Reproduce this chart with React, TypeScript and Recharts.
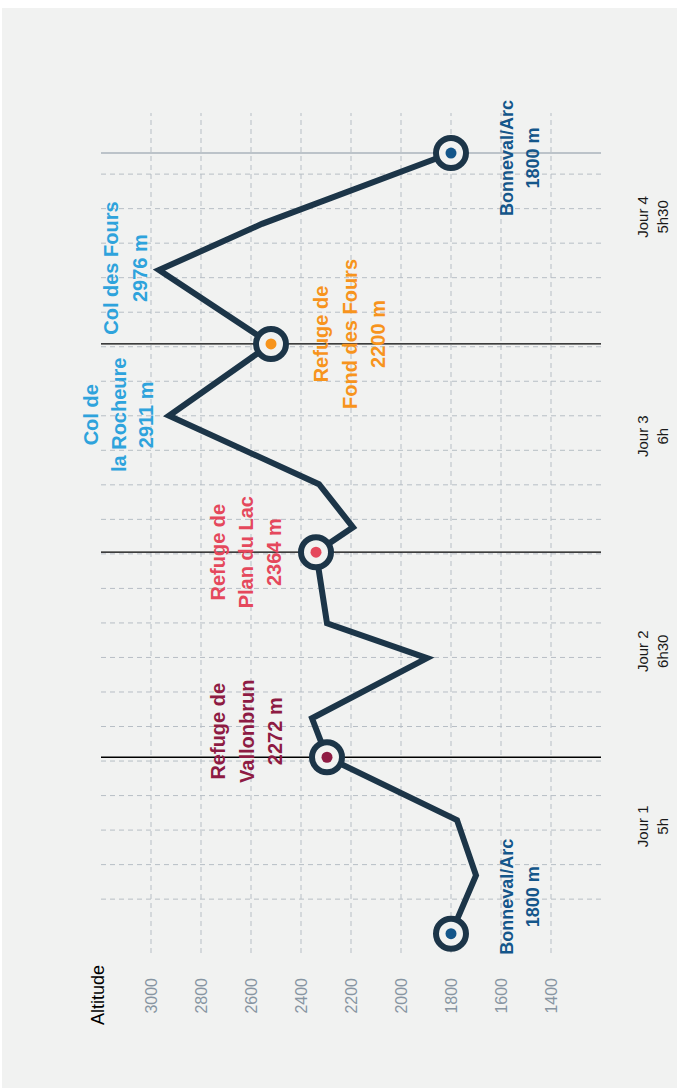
import { Line, LineChart, ReferenceLine, XAxis, YAxis } from "recharts";

// profile, read along the route (km from start) and altitude (m)
const km = [0, 1.69, 3.29, 5.11, 6.24, 7.98, 8.99, 11.05, 11.77, 13.02, 15.0, 17.08, 19.22, 20.56, 22.61];
const altitude = [1800, 1700, 1776, 2296, 2356, 1896, 2296, 2340, 2192, 2328, 2928, 2520, 2968, 2556, 1800];

const altitudeTicks = [1400, 1600, 1800, 2000, 2200, 2400, 2600, 2800, 3000];
const gridKm = [1, 2, 3, 4, 5, 6, 7, 8, 9, 10, 11, 12, 13, 14, 15, 16, 17, 18, 19, 20, 21, 22];

const dayKm = [3.11, 8.18, 14.41, 20.76];
const dayNames = ["Jour 1", "Jour 2", "Jour 3", "Jour 4"];
const dayDurations = ["5h", "6h30", "6h", "5h30"];

const stageEndKm = [5.11, 11.05, 17.08];
const routeEndKm = 22.61;

// points with a ring marker
const stopPoints = [0, 3, 7, 11, 14];
// labelled points and their text
const placePoints = [0, 3, 7, 10, 11, 12, 14];
const placeLines = [
  ["Bonneval/Arc", "1800 m"],
  ["Refuge de", "Vallonbrun", "2272 m"],
  ["Refuge de", "Plan du Lac", "2364 m"],
  ["Col de", "la Rocheure", "2911 m"],
  ["Refuge de", "Fond des Fours", "2200 m"],
  ["Col des Fours", "2976 m"],
  ["Bonneval/Arc", "1800 m"],
];

const BG = "#f1f2f1";
const NAVY = "#1c3548";
const BLUE = "#14568a";
const WINE = "#8e1b43";
const RED = "#e5485c";
const SKY = "#2ea3dc";
const ORANGE = "#f7941d";
const GRID = "#b7bec5";

const stopColors = [BLUE, WINE, RED, ORANGE, BLUE];
const placeStyle = [
  { color: BLUE, size: 18, dx: 37, base: 62, step: 26 },
  { color: WINE, size: 20, dx: 26, base: -102, step: 28.5 },
  { color: RED, size: 20, dx: 0, base: -91, step: 28 },
  { color: SKY, size: 20, dx: 1, base: -71, step: 27.5 },
  { color: ORANGE, size: 20, dx: 10, base: 57, step: 28.5 },
  { color: SKY, size: 20, dx: 2, base: -41, step: 29 },
  { color: BLUE, size: 18, dx: -5, base: 62, step: 26 },
];

const data = km.map((k, i) => ({ km: k, alt: altitude[i] }));

const renderPoint = (props: any) => {
  const { cx, cy, index } = props;
  const s = stopPoints.indexOf(index);
  const p = placePoints.indexOf(index);
  const st = p >= 0 ? placeStyle[p] : null;
  return (
    <g key={`pt-${index}`}>
      {s >= 0 && <circle cx={cx} cy={cy} r={15} fill={BG} stroke={NAVY} strokeWidth={6} />}
      {s >= 0 && <circle cx={cx} cy={cy} r={5.5} fill={stopColors[s]} />}
      {st && (
        <text textAnchor="middle" fill={st.color} fontSize={st.size} fontWeight="bold">
          {placeLines[p].map((line, i) => (
            <tspan key={i} x={cx + st.dx} y={cy + st.base + i * st.step}>
              {line}
            </tspan>
          ))}
        </text>
      )}
    </g>
  );
};

const DayTick = (props: any) => {
  const { x, y, payload } = props;
  const i = dayKm.indexOf(payload.value);
  return (
    <text x={x} y={y} textAnchor="middle" fill="#1a1a1a" fontSize={15}>
      <tspan x={x} dy={47}>{dayNames[i]}</tspan>
      <tspan x={x} dy={20}>{dayDurations[i]}</tspan>
    </text>
  );
};

const renderAltitude = (props: any) => {
  const vb = props.viewBox;
  return (
    <text x={vb.x + vb.width - 42} y={vb.y + 3} textAnchor="middle" fill="#000" fontSize={18}>
      Altitude
    </text>
  );
};

export default function App() {
  return (
    <div style={{ position: "absolute", left: 0, top: 0, width: 677, height: 1089, overflow: "hidden", background: "#fff" }}>
      <div
        style={{
          position: "absolute",
          left: 2,
          top: 1088,
          width: 1080,
          height: 675,
          transformOrigin: "0 0",
          transform: "rotate(-90deg)",
          background: BG,
          fontFamily: "'Liberation Sans', Arial, sans-serif",
        }}
      >
        <LineChart width={1080} height={675} data={data} margin={{ top: 99, right: 105, bottom: 16, left: 75 }}>
          <XAxis
            dataKey="km"
            type="number"
            domain={[-0.56, 23.77]}
            ticks={dayKm}
            interval={0}
            tick={<DayTick />}
            tickLine={false}
            axisLine={false}
            tickSize={0}
            tickMargin={0}
            height={60}
          />
          <YAxis
            type="number"
            domain={[1200, 3200]}
            ticks={altitudeTicks}
            interval={0}
            tick={{ fill: "#8795a2", fontSize: 16 }}
            tickLine={false}
            axisLine={false}
            tickSize={0}
            tickMargin={25}
            width={60}
            label={renderAltitude}
          />
          {gridKm.map((k) => (
            <ReferenceLine key={`gx-${k}`} x={k} stroke={GRID} strokeDasharray="5 4" />
          ))}
          {altitudeTicks.map((a) => (
            <ReferenceLine key={`gy-${a}`} y={a} stroke={GRID} strokeDasharray="5 4" />
          ))}
          {stageEndKm.map((k) => (
            <ReferenceLine key={k} x={k} stroke="#000" strokeWidth={1.3} />
          ))}
          <ReferenceLine x={routeEndKm} stroke="#aab3bb" strokeWidth={1.5} />
          <Line
            dataKey="alt"
            type="linear"
            stroke={NAVY}
            strokeWidth={6}
            dot={renderPoint}
            activeDot={false}
            isAnimationActive={false}
          />
        </LineChart>
      </div>
    </div>
  );
}
